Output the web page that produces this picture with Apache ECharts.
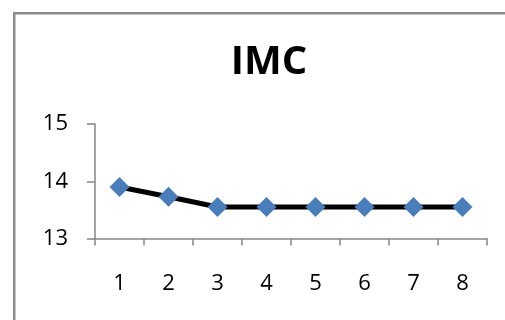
<!DOCTYPE html>
<html>
<head>
<meta charset="utf-8">
<script src="https://cdn.jsdelivr.net/npm/echarts@6/dist/echarts.min.js"></script>
<style>
html,body{margin:0;padding:0;background:#fff;}
#c{width:505px;height:320px;}
</style>
</head>
<body>
<div id="c"></div>
<script>
var titleText = "IMC";
var categories = ["1","2","3","4","5","6","7","8"];
var imcValues = [13.9, 13.73, 13.55, 13.55, 13.55, 13.55, 13.55, 13.55];
var yTicks = [13, 14, 15];

var chart = echarts.init(document.getElementById('c'), null, {renderer:'canvas'});
var axisGray = '#868686';
chart.setOption({
  animation:false,
  backgroundColor:'#ffffff',
  graphic:[{
    type:'rect', left:13, top:12, z:-1,
    shape:{x:0,y:0,width:600,height:400},
    style:{fill:'#ffffff', stroke:'#8c8c8c', lineWidth:2.5}
  }],
  title:{
    text:titleText, left:264, top:38, textAlign:'center',
    textStyle:{fontFamily:'Open Sans', fontWeight:'bold', fontSize:40, color:'#000'}
  },
  grid:{left:95, right:18, top:124, bottom:81.5, containLabel:false},
  xAxis:{
    type:'category', data:categories, boundaryGap:true,
    axisLine:{lineStyle:{color:axisGray, width:1.5}},
    axisTick:{show:true, length:7, alignWithLabel:false, lineStyle:{color:axisGray, width:1.5}},
    axisLabel:{margin:34, fontFamily:'Open Sans', fontSize:22, color:'#000'},
    splitLine:{show:false}
  },
  yAxis:{
    type:'value', min:yTicks[0], max:yTicks[yTicks.length-1], interval:1,
    axisLine:{show:true, lineStyle:{color:axisGray, width:1.5}},
    axisTick:{show:true, length:8, lineStyle:{color:axisGray, width:1.5}},
    axisLabel:{margin:27, fontFamily:'Open Sans', fontSize:22, color:'#000'},
    splitLine:{show:false}
  },
  series:[{
    type:'line', data:imcValues,
    lineStyle:{color:'#000', width:5},
    symbol:'diamond', symbolSize:20, showAllSymbol:true,
    itemStyle:{color:'#4a7ebb', borderWidth:0}
  }]
});
</script>
</body>
</html>
